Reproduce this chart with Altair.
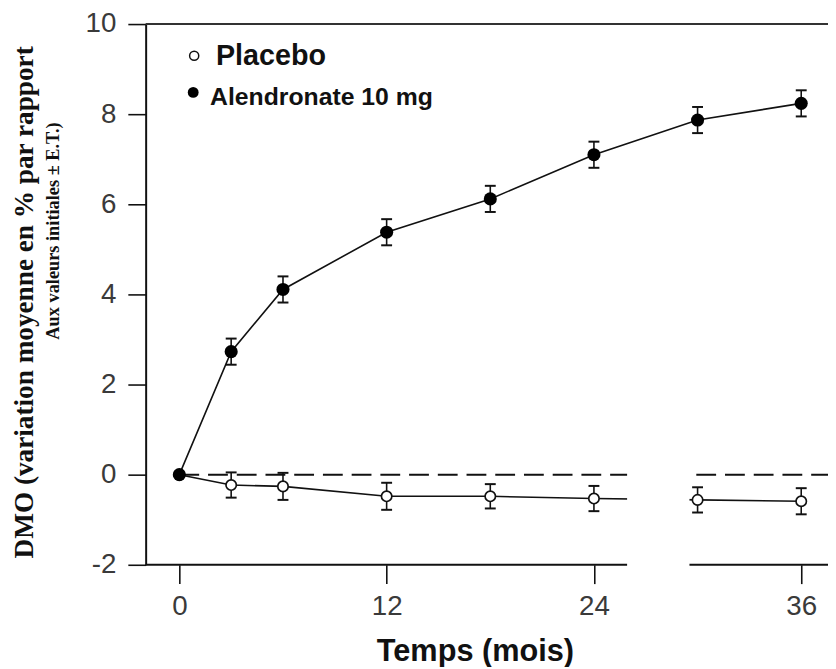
import altair as alt
import pandas as pd

# ---- data ----
months = [0, 3, 6, 12, 18, 24, 30, 36]
alendronate = [0.0, 2.73, 4.11, 5.38, 6.12, 7.10, 7.87, 8.24]
alendronate_se = [0.0, 0.29, 0.29, 0.29, 0.29, 0.29, 0.29, 0.29]
placebo = [0.0, -0.23, -0.26, -0.48, -0.48, -0.53, -0.56, -0.59]
placebo_se = [0.0, 0.28, 0.30, 0.30, 0.27, 0.28, 0.28, 0.29]
x_ticks = [0, 12, 24, 36]
y_ticks = [-2, 0, 2, 4, 6, 8, 10]
series_names = ["Placebo", "Alendronate 10 mg"]
x_title = "Temps (mois)"
y_title_1 = "DMO (variation moyenne en % par rapport"
y_title_2 = "Aux valeurs initiales ± E.T.)"

# axis break and scale limits
x_min, x_max = -1.95, 37.55
break_from, break_to = 25.92, 29.53
W, H = 689, 546

df_a = pd.DataFrame({"m": months, "v": alendronate, "se": alendronate_se})
df_a["lo"] = df_a["v"] - df_a["se"]
df_a["hi"] = df_a["v"] + df_a["se"]
df_p = pd.DataFrame({"m": months, "v": placebo, "se": placebo_se})
df_p["lo"] = df_p["v"] - df_p["se"]
df_p["hi"] = df_p["v"] + df_p["se"]
err_a = df_a[df_a["se"] > 0]
err_p = df_p[df_p["se"] > 0]
one = pd.DataFrame({"k": [0]})

INK = "#111111"
LAB = "#3a3a3a"

xs = alt.Scale(domain=[x_min, x_max], nice=False, zero=False)
ys = alt.Scale(domain=[-2, 10], nice=False, zero=False)
x_axis = alt.Axis(values=x_ticks, domain=False, grid=False, tickSize=19, tickWidth=1.6,
                  tickColor=INK, labelFontSize=28, labelFont="Liberation Sans",
                  labelColor=LAB, labelPadding=9, title=None)
y_axis = alt.Axis(values=y_ticks, domain=True, domainColor=INK, domainWidth=2, grid=False,
                  tickSize=18, tickWidth=1.6, tickColor=INK, labelFontSize=28,
                  labelFont="Liberation Sans", labelColor=LAB, labelPadding=12, title=None,
                  labelExpr="toString(datum.value)")


def X(field):
    return alt.X(field, type="quantitative", scale=xs, axis=x_axis)


def Y(field):
    return alt.Y(field, type="quantitative", scale=ys, axis=y_axis)


# frame lines (x axis line at bottom, top border)
bottom_line = alt.Chart(one).mark_rule(color=INK, strokeWidth=2).encode(
    x=alt.value(0), x2=alt.value(W), y=alt.Y(datum=-2, type="quantitative", scale=ys, axis=y_axis))
top_line = alt.Chart(one).mark_rule(color="#333", strokeWidth=2).encode(
    x=alt.value(0), x2=alt.value(W), y=alt.Y(datum=10, type="quantitative", scale=ys, axis=y_axis))

zero_line = alt.Chart(one).mark_rule(color=INK, strokeWidth=2, strokeDash=[20, 9]).encode(
    x=alt.X(datum=0, type="quantitative", scale=xs, axis=x_axis),
    x2=alt.value(W),
    y=alt.Y(datum=0, type="quantitative", scale=ys, axis=y_axis))

p_line = alt.Chart(df_p).mark_line(color=INK, strokeWidth=1.6).encode(x=X("m"), y=Y("v"))

# white break in the x axis
cover = alt.Chart(one).mark_rect(color="white", opacity=1).encode(
    x=alt.X(datum=break_from, type="quantitative", scale=xs, axis=x_axis),
    x2=alt.datum(break_to),
    y=alt.Y(datum=0.32, type="quantitative", scale=ys, axis=y_axis),
    y2=alt.datum(-2.2))

a_line = alt.Chart(df_a).mark_line(color=INK, strokeWidth=1.6).encode(x=X("m"), y=Y("v"))

p_bar = alt.Chart(err_p).mark_rule(color=INK, strokeWidth=1.6).encode(x=X("m"), y=Y("lo"), y2="hi:Q")
p_cap_lo = alt.Chart(err_p).mark_tick(orient="horizontal", size=11, thickness=2, color=INK, opacity=1).encode(x=X("m"), y=Y("lo"))
p_cap_hi = alt.Chart(err_p).mark_tick(orient="horizontal", size=11, thickness=2, color=INK, opacity=1).encode(x=X("m"), y=Y("hi"))
a_bar = alt.Chart(err_a).mark_rule(color=INK, strokeWidth=1.6).encode(x=X("m"), y=Y("lo"), y2="hi:Q")
a_cap_lo = alt.Chart(err_a).mark_tick(orient="horizontal", size=11, thickness=2, color=INK, opacity=1).encode(x=X("m"), y=Y("lo"))
a_cap_hi = alt.Chart(err_a).mark_tick(orient="horizontal", size=11, thickness=2, color=INK, opacity=1).encode(x=X("m"), y=Y("hi"))

p_pts = alt.Chart(df_p).mark_point(shape="circle", size=110, fill="white", stroke=INK,
                                   strokeWidth=1.7, opacity=1, fillOpacity=1).encode(x=X("m"), y=Y("v"))
a_pts = alt.Chart(df_a).mark_point(shape="circle", size=175, filled=True, color="#000",
                                   opacity=1).encode(x=X("m"), y=Y("v"))

# legend (drawn inside the plot, top-left)
leg_p_pt = alt.Chart(one).mark_point(shape="circle", size=85, fill="white", stroke=INK,
                                     strokeWidth=1.5, opacity=1).encode(x=alt.value(49), y=alt.value(32))
leg_a_pt = alt.Chart(one).mark_point(shape="circle", size=120, filled=True, color="#000",
                                     opacity=1).encode(x=alt.value(48), y=alt.value(69))
leg_p_tx = alt.Chart(one).mark_text(text=series_names[0], align="left", baseline="middle",
                                    font="Liberation Sans", fontWeight="bold", fontSize=29,
                                    color=INK).encode(x=alt.value(71), y=alt.value(32))
leg_a_tx = alt.Chart(one).mark_text(text=series_names[1], align="left", baseline="middle",
                                    font="Liberation Sans", fontWeight="bold", fontSize=25,
                                    color=INK).encode(x=alt.value(65), y=alt.value(74))

# axis titles
x_tt = alt.Chart(one).mark_text(text=x_title, align="center", baseline="middle",
                                font="Liberation Sans", fontWeight="bold", fontSize=31,
                                color=INK).encode(x=alt.value(333), y=alt.value(634))
y_tt1 = alt.Chart(one).mark_text(text=y_title_1, align="center", baseline="middle", angle=270,
                                 font="Liberation Serif", fontWeight="bold", fontSize=27.5,
                                 color=INK).encode(x=alt.value(-122), y=alt.value(281))
y_tt2 = alt.Chart(one).mark_text(text=y_title_2, align="center", baseline="middle", angle=270,
                                 font="Liberation Serif", fontWeight="bold", fontSize=18.5,
                                 color=INK).encode(x=alt.value(-93), y=alt.value(209))

chart = alt.layer(
    bottom_line, top_line, zero_line, p_line, cover, a_line,
    p_bar, p_cap_lo, p_cap_hi, a_bar, a_cap_lo, a_cap_hi,
    p_pts, a_pts,
    leg_p_pt, leg_a_pt, leg_p_tx, leg_a_tx,
    x_tt, y_tt1, y_tt2,
).properties(
    width=W, height=H,
    padding={"left": 139, "top": 13, "right": 0, "bottom": 100},
    autosize=alt.AutoSizeParams(type="none"),
    background="white",
).configure_view(stroke=None)

chart.save("out.html", embed_options={"renderer": "svg", "actions": False})
